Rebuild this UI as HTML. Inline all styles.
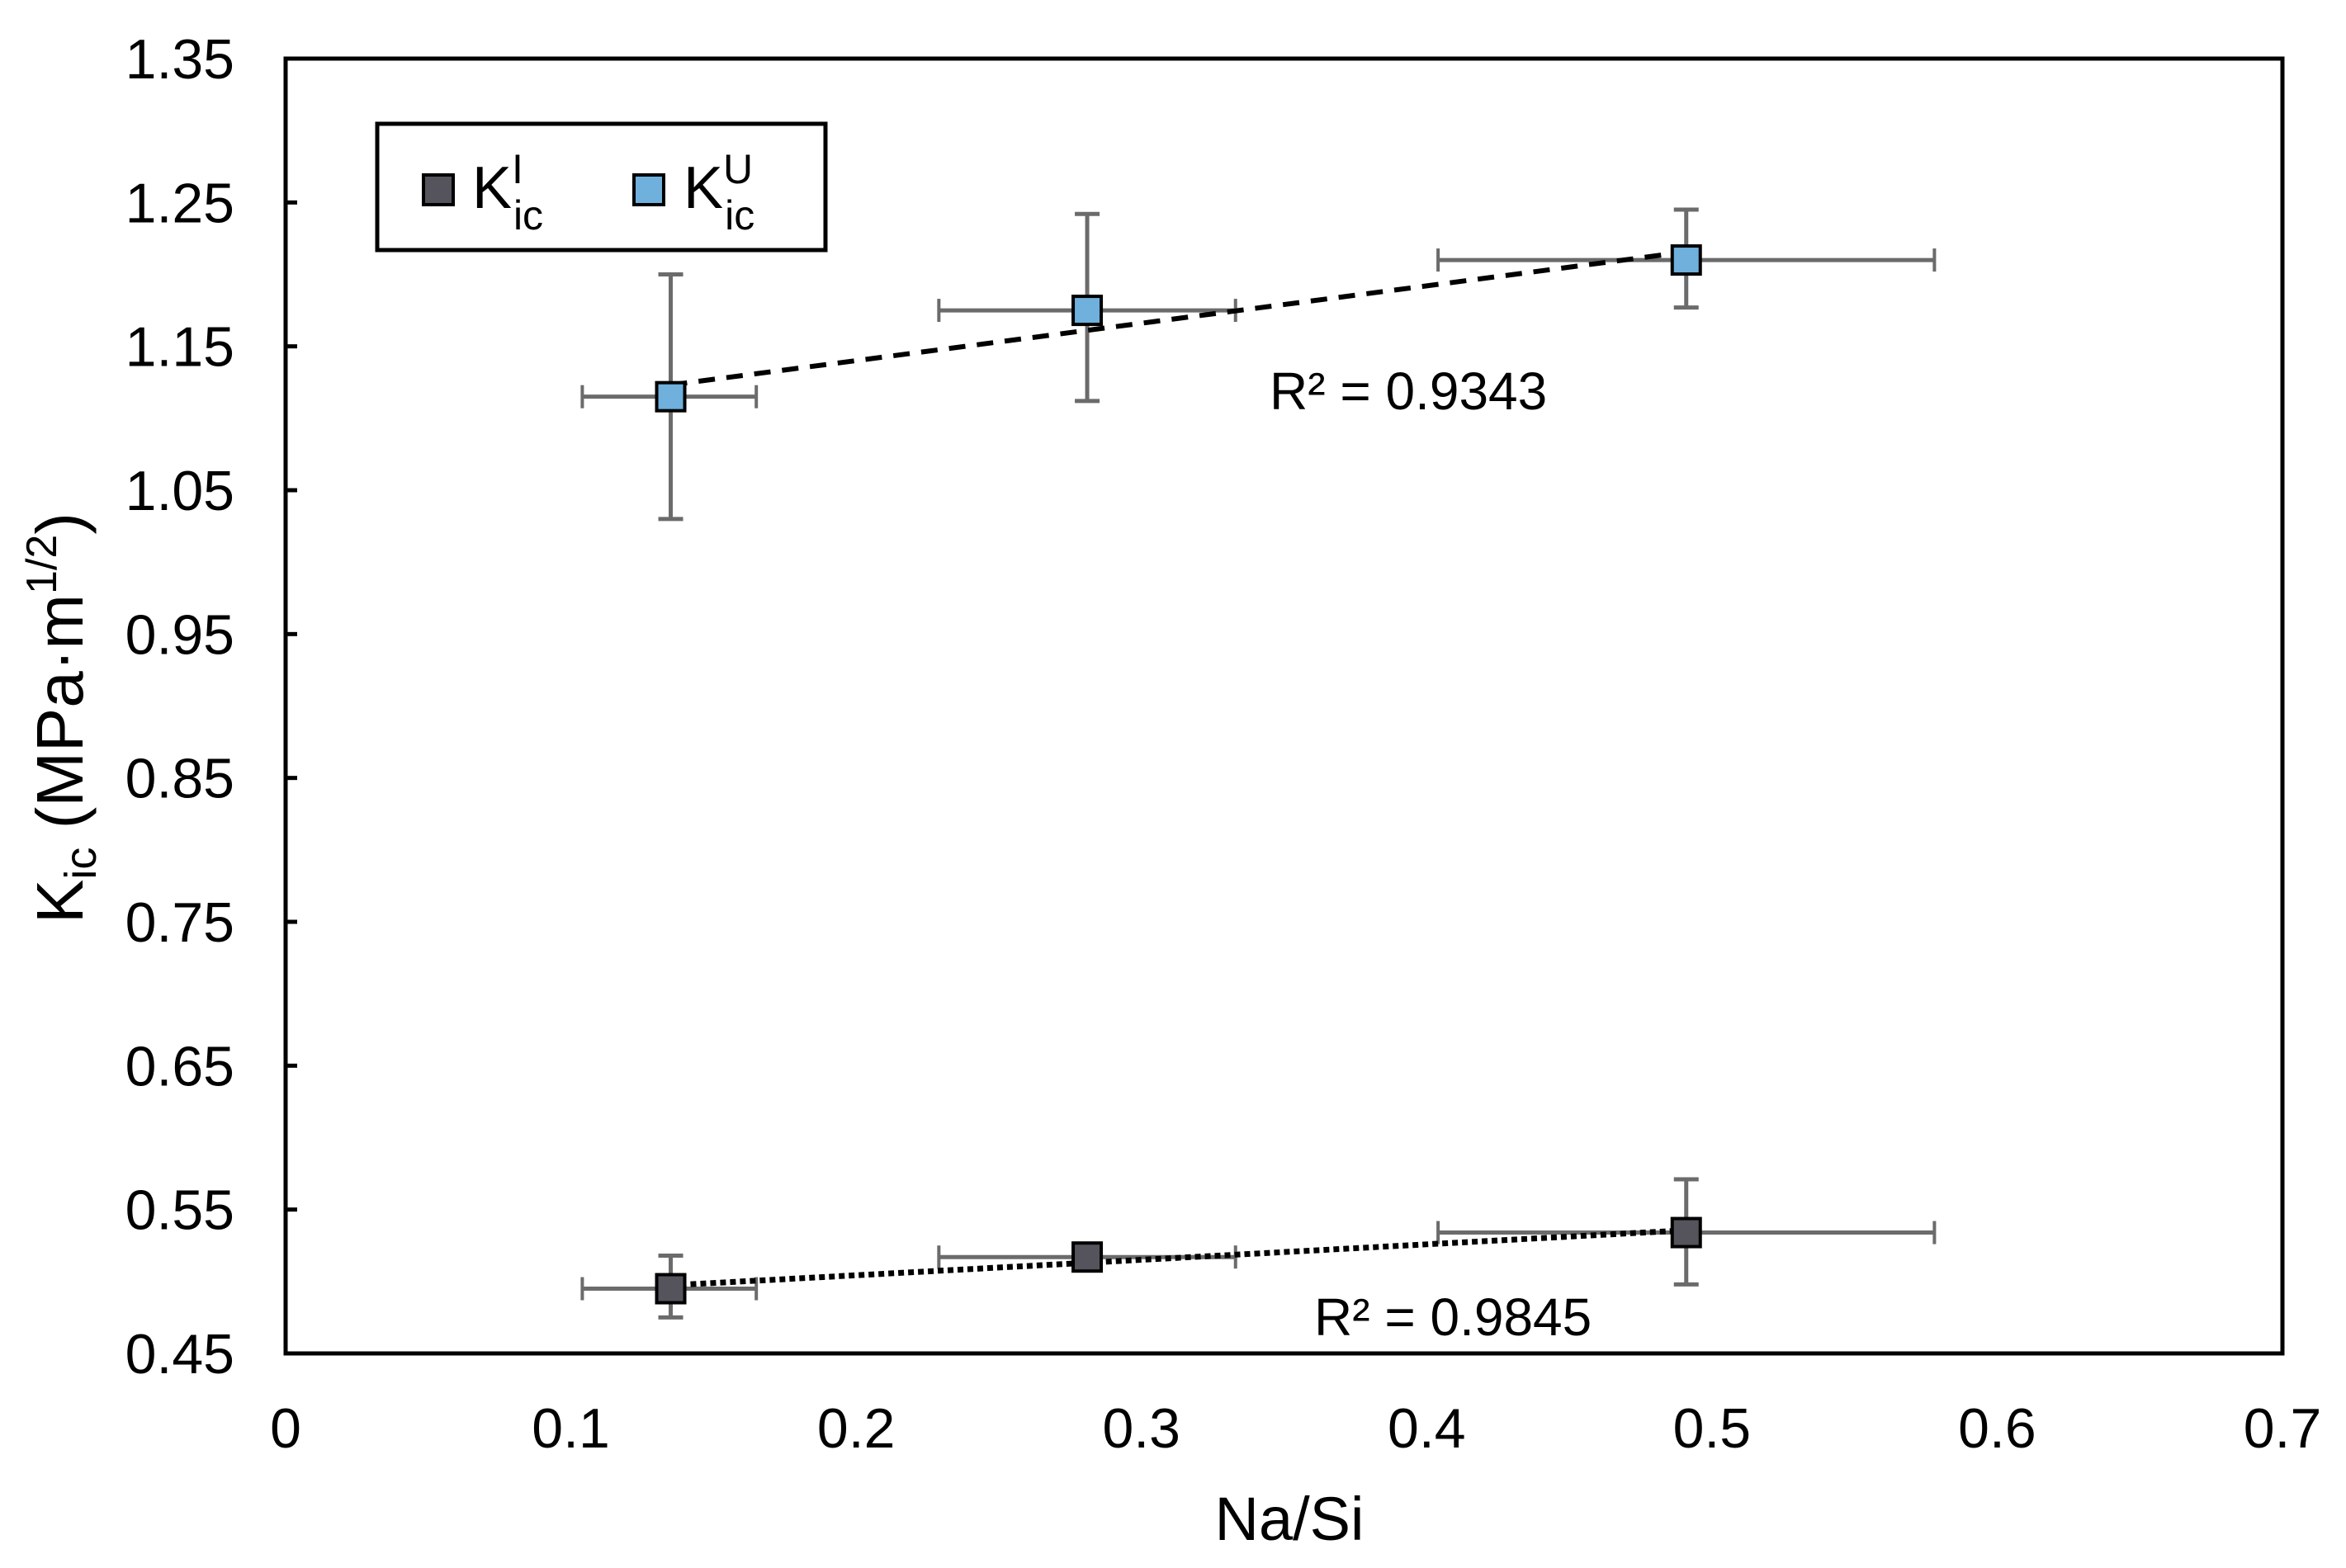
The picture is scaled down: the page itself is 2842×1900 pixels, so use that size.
<!DOCTYPE html>
<html><head><meta charset="utf-8"><style>
html,body{margin:0;padding:0;background:#fff;}
svg{display:block;font-family:"Liberation Sans",Arial,sans-serif;}
</style></head><body>
<svg id="chart" width="2842" height="1900" viewBox="0 0 2842 1900">
<rect x="0" y="0" width="2842" height="1900" fill="#fff"/>
<g id="grid"></g>
<g id="marks"></g>
<rect x="346" y="71" width="2419" height="1569" fill="none" stroke="#000" stroke-width="5"/>
<g id="axes"></g>
<text x="0" y="0" transform="translate(100,870) rotate(-90)" text-anchor="middle" font-size="80" fill="#000">K<tspan font-size="54" dy="16">ic</tspan><tspan dy="-16"> (MPa·m</tspan><tspan font-size="52" dy="-32">1/2</tspan><tspan dy="32">)</tspan></text>
<text x="1562" y="1866" text-anchor="middle" font-size="74" fill="#000">Na/Si</text>
<g>
<rect x="457" y="150" width="543" height="153" fill="#fff" stroke="#000" stroke-width="5"/>
<g>
<rect x="513" y="212" width="36" height="36" fill="#55545c" stroke="#000" stroke-width="4"/>
<text x="572" y="252" font-size="72">K<tspan font-size="50" dy="-30">I</tspan><tspan font-size="50" dx="-12" dy="56">ic</tspan></text>
</g>
<g>
<rect x="768" y="212" width="36" height="36" fill="#6fb0dc" stroke="#000" stroke-width="4"/>
<text x="828" y="252" font-size="72">K<tspan font-size="50" dy="-30">U</tspan><tspan font-size="50" dx="-34" dy="56">ic</tspan></text>
</g>
</g>
<text x="1538" y="496" font-size="64">R² = 0.9343</text>
<text x="1592" y="1618" font-size="64">R² = 0.9845</text>
</svg>
<script>
const xTicks=[0,0.1,0.2,0.3,0.4,0.5,0.6,0.7];
const yTicks=[0.45,0.55,0.65,0.75,0.85,0.95,1.05,1.15,1.25,1.35];
const xVals=[0.135,0.281,0.491];
const upperY=[1.115,1.175,1.210];
const upperYLo=[1.030,1.112,1.177];
const upperYHi=[1.200,1.242,1.245];
const lowerY=[0.495,0.517,0.534];
const lowerYLo=[0.475,0.512,0.498];
const lowerYHi=[0.518,0.522,0.571];
const xLo=[0.104,0.229,0.404];
const xHi=[0.165,0.333,0.578];

const L=346,R=2765,T=71,B=1640;
const X=v=>L+(v-0)/(0.7-0)*(R-L);
const Y=v=>B-(v-0.45)/(1.35-0.45)*(B-T);
const NS='http://www.w3.org/2000/svg';
function mk(tag,attrs,parent){const e=document.createElementNS(NS,tag);for(const k in attrs)e.setAttribute(k,attrs[k]);parent.appendChild(e);return e;}
const axes=document.getElementById('axes'),marks=document.getElementById('marks');
xTicks.forEach((t,i)=>{
  const e=mk('text',{x:X(t),y:1754,'text-anchor':'middle','font-size':68,fill:'#000'},axes);
  e.textContent=String(t);
  
  
});
yTicks.forEach(t=>{
  const e=mk('text',{x:284,y:Y(t)+24,'text-anchor':'end','font-size':68,fill:'#000'},axes);
  e.textContent=t.toFixed(2);
  
  
  const tk=mk('line',{x1:L,x2:L+14,y1:Y(t),y2:Y(t),stroke:'#000','stroke-width':5},axes);
  
  
});
function fit(xs,ys){const n=xs.length;const mx=xs.reduce((a,b)=>a+b)/n,my=ys.reduce((a,b)=>a+b)/n;let sxy=0,sxx=0;for(let i=0;i<n;i++){sxy+=(xs[i]-mx)*(ys[i]-my);sxx+=(xs[i]-mx)**2;}const m=sxy/sxx;return [m,my-m*mx];}
function series(ys,lo,hi,fill,name,dash,dw){
  const g=mk('g',{},marks);
  
  
  for(let i=0;i<xVals.length;i++){
    const c='#6b6b6b';
    const h=mk('line',{x1:X(xLo[i]),x2:X(xHi[i]),y1:Y(ys[i]),y2:Y(ys[i]),stroke:c,'stroke-width':5},g);
    
    
    [xLo[i],xHi[i]].forEach(v=>{const cap=mk('line',{x1:X(v),x2:X(v),y1:Y(ys[i])-14,y2:Y(ys[i])+14,stroke:c,'stroke-width':4},g);
      
      });
    const v=mk('line',{x1:X(xVals[i]),x2:X(xVals[i]),y1:Y(lo[i]),y2:Y(hi[i]),stroke:c,'stroke-width':5},g);
    
    
    [lo[i],hi[i]].forEach(w=>{const cap=mk('line',{x1:X(xVals[i])-15,x2:X(xVals[i])+15,y1:Y(w),y2:Y(w),stroke:c,'stroke-width':5},g);
      
      });
  }
  const [m,b]=fit(xVals,ys);
  const x0=xVals[0],x1=xVals[xVals.length-1];
  const tl=mk('line',{x1:X(x0),x2:X(x1),y1:Y(m*x0+b),y2:Y(m*x1+b),stroke:'#000','stroke-width':dw,'stroke-dasharray':dash},g);
  
  
  for(let i=0;i<xVals.length;i++){
    const p=mk('rect',{x:X(xVals[i])-17,y:Y(ys[i])-17,width:34,height:34,fill:fill,stroke:'#000','stroke-width':4},g);
    
    
  }
}
series(upperY,upperYLo,upperYHi,'#6fb0dc','ku','20,14',6);
series(lowerY,lowerYLo,lowerYHi,'#55545c','kl','7,5',7);
</script>
</body></html>
